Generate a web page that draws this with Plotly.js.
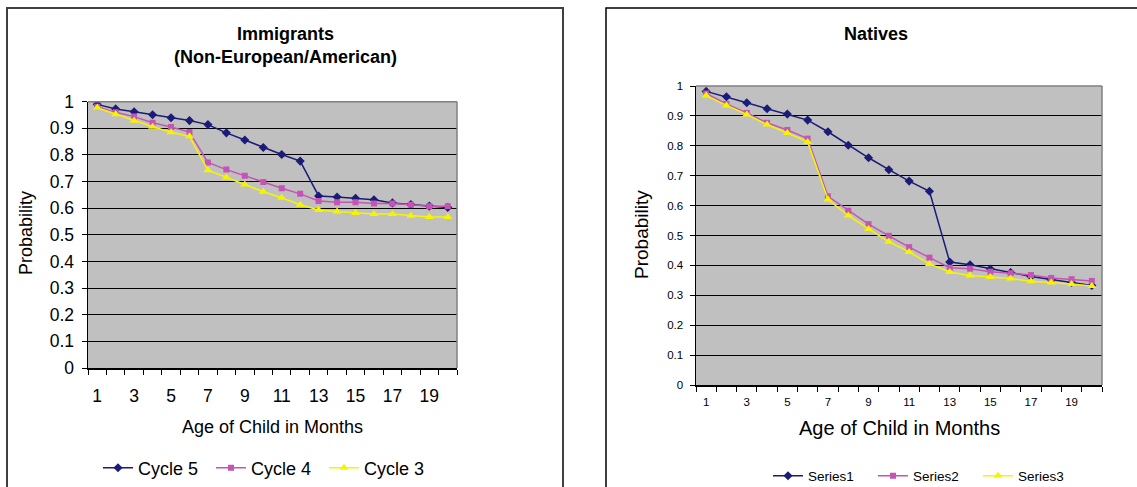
<!DOCTYPE html>
<html>
<head>
<meta charset="utf-8">
<script src="https://cdn.plot.ly/plotly-3.0.1.min.js"></script>
<style>
  html, body { margin: 0; padding: 0; background: #ffffff; }
  #chart { width: 1137px; height: 487px; }
</style>
</head>
<body>
<div id="chart"></div>
<script>
// ---- Data ----
var months = [1, 2, 3, 4, 5, 6, 7, 8, 9, 10, 11, 12, 13, 14, 15, 16, 17, 18, 19, 20];
var monthTickVals = [1, 3, 5, 7, 9, 11, 13, 15, 17, 19];
var monthTickText = ['1', '3', '5', '7', '9', '11', '13', '15', '17', '19'];

// Immigrants (Non-European/American)
var immigrantsNames = ['Cycle 5', 'Cycle 4', 'Cycle 3'];
var immigrantsCycle5 = [0.990, 0.973, 0.962, 0.951, 0.940, 0.929, 0.914, 0.883, 0.856, 0.828,
                        0.802, 0.777, 0.646, 0.642, 0.637, 0.632, 0.620, 0.614, 0.608, 0.603];
var immigrantsCycle4 = [0.981, 0.960, 0.944, 0.921, 0.905, 0.886, 0.772, 0.745, 0.722, 0.698,
                        0.675, 0.654, 0.627, 0.622, 0.622, 0.618, 0.618, 0.613, 0.607, 0.607];
var immigrantsCycle3 = [0.977, 0.953, 0.928, 0.906, 0.885, 0.870, 0.743, 0.715, 0.689, 0.662,
                        0.639, 0.613, 0.593, 0.588, 0.582, 0.578, 0.578, 0.572, 0.567, 0.567];

// Natives
var nativesNames = ['Series1', 'Series2', 'Series3'];
var nativesSeries1 = [0.982, 0.964, 0.944, 0.924, 0.906, 0.886, 0.847, 0.802, 0.760, 0.720,
                      0.682, 0.648, 0.411, 0.402, 0.388, 0.376, 0.363, 0.352, 0.343, 0.333];
var nativesSeries2 = [0.975, 0.940, 0.910, 0.877, 0.853, 0.824, 0.631, 0.583, 0.538, 0.499,
                      0.461, 0.426, 0.392, 0.389, 0.379, 0.374, 0.368, 0.358, 0.354, 0.348];
var nativesSeries3 = [0.968, 0.935, 0.905, 0.871, 0.843, 0.813, 0.620, 0.567, 0.522, 0.479,
                      0.445, 0.405, 0.378, 0.366, 0.361, 0.356, 0.347, 0.343, 0.338, 0.331];

// ---- Geometry helpers (figure is 1137 x 487, margins 0) ----
var W = 1137, H = 487;
function px(x) { return x / W; }
function py(y) { return 1 - y / H; }

var FONT = '"Liberation Sans", Arial, sans-serif';
var NAVY = '#1b1b78', PINK = '#c455b4', YELLOW = '#f5f500';

function series(x, y, name, color, symbol, size, xa, ya, legend) {
  return {
    x: x, y: y, name: name, type: 'scatter', mode: 'lines+markers',
    xaxis: xa, yaxis: ya, legend: legend,
    line: { color: color, width: 1.5 },
    marker: { color: color, symbol: symbol, size: size, line: { width: 0 } },
    hoverinfo: 'skip'
  };
}

var data = [
  series(months, immigrantsCycle5, immigrantsNames[0], NAVY, 'diamond', 7, 'x', 'y', 'legend'),
  series(months, immigrantsCycle4, immigrantsNames[1], PINK, 'square', 6, 'x', 'y', 'legend'),
  series(months, immigrantsCycle3, immigrantsNames[2], YELLOW, 'triangle-up', 8, 'x', 'y', 'legend'),
  series(months, nativesSeries1, nativesNames[0], NAVY, 'diamond', 7, 'x2', 'y2', 'legend2'),
  series(months, nativesSeries2, nativesNames[1], PINK, 'square', 6, 'x2', 'y2', 'legend2'),
  series(months, nativesSeries3, nativesNames[2], YELLOW, 'triangle-up', 8, 'x2', 'y2', 'legend2')
];

function xAxis(domain, anchor, fontSize, standoff) {
  return {
    domain: domain, anchor: anchor, range: [0.5, 20.5],
    tickmode: 'array', tickvals: monthTickVals, ticktext: monthTickText,
    ticks: '', showgrid: false, zeroline: false,
    showline: true, linecolor: '#000000', linewidth: 1.5,
    tickfont: { family: FONT, size: fontSize, color: '#000000' },
    ticklabelstandoff: standoff,
    minor: { ticks: 'outside', tick0: 0.5, dtick: 1, ticklen: 5, tickcolor: '#000000', tickwidth: 1, showgrid: false },
    automargin: false,
    fixedrange: true
  };
}
function yAxis(domain, anchor, fontSize, standoff) {
  return {
    domain: domain, anchor: anchor, range: [0, 1],
    tickmode: 'linear', tick0: 0, dtick: 0.1,
    ticks: 'outside', ticklen: 5, tickcolor: '#000000', tickwidth: 1,
    showgrid: true, gridcolor: '#000000', gridwidth: 1, zeroline: false,
    showline: true, linecolor: '#000000', linewidth: 1.5,
    tickfont: { family: FONT, size: fontSize, color: '#000000' },
    ticklabelstandoff: standoff,
    automargin: false,
    fixedrange: true
  };
}

function ann(text, x, y, size, bold, angle) {
  return {
    text: bold ? '<b>' + text + '</b>' : text,
    xref: 'paper', yref: 'paper', x: px(x), y: py(y),
    xanchor: 'center', yanchor: 'middle', showarrow: false,
    textangle: angle || 0,
    font: { family: FONT, size: size, color: '#000000' }
  };
}

var layout = {
  width: W, height: H,
  margin: { l: 0, r: 0, t: 0, b: 0, pad: 0, autoexpand: false },
  paper_bgcolor: '#ffffff',
  plot_bgcolor: '#c0c0c0',
  xaxis: xAxis([px(88), px(457)], 'y', 17.5, 11),
  yaxis: yAxis([py(368), py(101.7)], 'x', 17.5, 4),
  xaxis2: xAxis([px(696), px(1102)], 'y2', 11.5, 6),
  yaxis2: yAxis([py(385), py(86)], 'x2', 11.5, 4),
  showlegend: true,
  legend: {
    orientation: 'h', x: px(98), y: py(468), xanchor: 'left', yanchor: 'middle',
    entrywidth: 68, bgcolor: 'rgba(0,0,0,0)', borderwidth: 0,
    font: { family: FONT, size: 18, color: '#000000' }
  },
  legend2: {
    orientation: 'h', x: px(768), y: py(476), xanchor: 'left', yanchor: 'middle',
    entrywidth: 60, bgcolor: 'rgba(0,0,0,0)', borderwidth: 0,
    font: { family: FONT, size: 13.5, color: '#000000' }
  },
  annotations: [
    ann('Immigrants<br>(Non-European/American)', 285, 46, 18, true),
    ann('Natives', 876, 34, 18, true),
    ann('Age of Child in Months', 272.5, 427, 18, false),
    ann('Probability', 26, 233, 18, false, -90),
    ann('Age of Child in Months', 899, 428, 20, false),
    ann('Probability', 641, 235, 19, false, -90)
  ],
  shapes: [
    // chart-area frames
    { type: 'rect', xref: 'paper', yref: 'paper', x0: px(7), x1: px(563), y0: -0.1, y1: py(8),
      line: { color: '#404040', width: 2 }, fillcolor: 'rgba(0,0,0,0)' },
    { type: 'rect', xref: 'paper', yref: 'paper', x0: px(606), x1: 1.1, y0: -0.1, y1: py(8),
      line: { color: '#000000', width: 1.5 }, fillcolor: 'rgba(0,0,0,0)' },
    // plot-area gray border (top and right)
    { type: 'line', xref: 'x domain', yref: 'y domain', x0: 0, x1: 1, y0: 1, y1: 1, line: { color: '#808080', width: 1.5 } },
    { type: 'line', xref: 'x domain', yref: 'y domain', x0: 1, x1: 1, y0: 0, y1: 1, line: { color: '#808080', width: 1.5 } },
    { type: 'line', xref: 'x2 domain', yref: 'y2 domain', x0: 0, x1: 1, y0: 1, y1: 1, line: { color: '#808080', width: 1.5 } },
    { type: 'line', xref: 'x2 domain', yref: 'y2 domain', x0: 1, x1: 1, y0: 0, y1: 1, line: { color: '#808080', width: 1.5 } }
  ]
};

Plotly.newPlot('chart', data, layout, { staticPlot: true, displayModeBar: false });
</script>
</body>
</html>
